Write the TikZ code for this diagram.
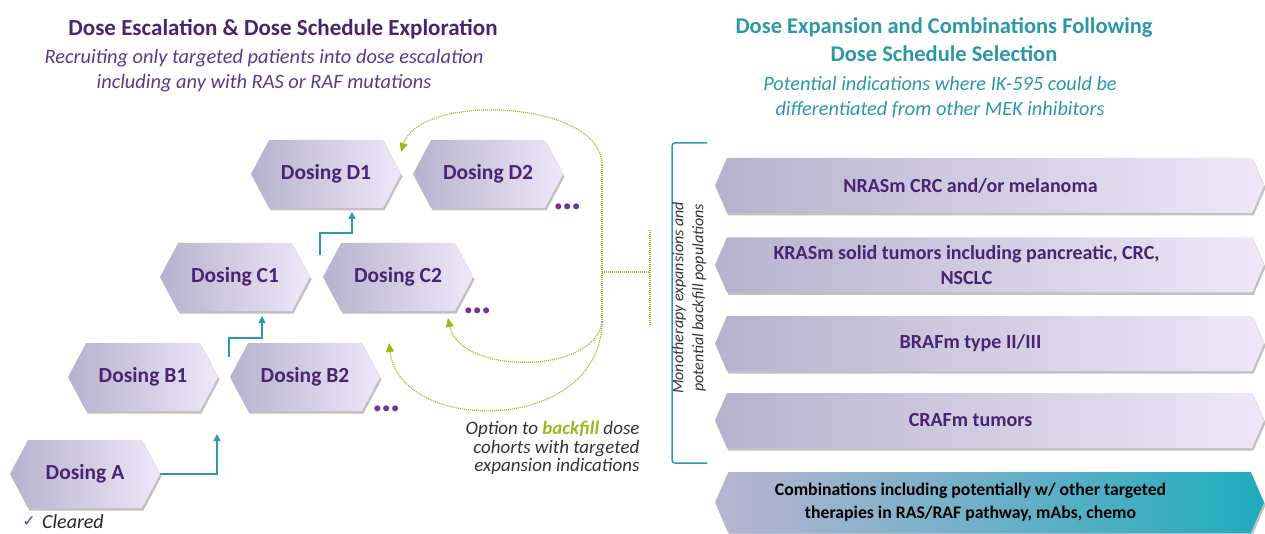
\documentclass[tikz,border=0pt]{standalone}
\usepackage{fontspec}
\setmainfont{Carlito}
\newfontfamily\symfont{DejaVu Sans}
\usetikzlibrary{shapes.symbols,shadows,arrows.meta}

\definecolor{ink}{HTML}{4A2371}
\definecolor{subink}{HTML}{5B3A89}
\definecolor{tealtitle}{HTML}{2C98A6}
\definecolor{tealline}{HTML}{2E9BAA}
\definecolor{olive}{HTML}{A2B520}
\definecolor{hexL}{HTML}{B6B2CE}
\definecolor{hexR}{HTML}{EFE7F9}
\definecolor{dotpurple}{HTML}{7030A0}
\definecolor{combL}{HTML}{B9B4D1}
\definecolor{combM}{HTML}{8ED6E0}
\definecolor{combR}{HTML}{1FACBE}

\begin{document}
\begin{tikzpicture}[x=1pt,y=-1pt,
  hexbox/.style={signal, signal to=east and west, signal pointer angle=124,
    minimum width=150pt, minimum height=68pt, inner sep=0pt,
    left color=hexL, right color=hexR, draw=none,
    drop shadow={shadow xshift=1.5pt, shadow yshift=-2.5pt, opacity=0.35, fill=black!70},
    font=\fontsize{21.5}{25}\selectfont\bfseries, text=ink},
  barbox/.style={signal, signal to=east and west, signal pointer angle=133,
    minimum width=549pt, minimum height=55pt, inner sep=0pt,
    left color=hexL, right color=hexR, draw=none,
    drop shadow={shadow xshift=1.5pt, shadow yshift=-2.5pt, opacity=0.35, fill=black!70}},
  bartext/.style={font=\fontsize{20}{25}\selectfont\bfseries, text=ink, align=center},
  more/.style={font=\fontsize{40}{40}\selectfont\bfseries, text=dotpurple, inner sep=0pt, anchor=base},
  steparrow/.style={draw=tealline, line width=1.3pt, -{Triangle[width=7pt,length=7pt]}},
  backfillarrow/.style={draw=olive, line width=1.2pt, dash pattern=on 1pt off 1pt,
    -{Triangle[width=8pt,length=9pt]}},
  backfillline/.style={draw=olive, line width=1.2pt, dash pattern=on 1pt off 1pt}
]
\useasboundingbox (0,0) rectangle (1265,534);

% ---- headings ----
\node[font=\fontsize{23}{27}\selectfont\bfseries, text=ink] (lefttitle) at (283,29)
  {Dose Escalation \& Dose Schedule Exploration};
\node[font=\fontsize{20.4}{25}\selectfont\itshape, text=subink, align=center] (leftsub) at (264,70.5)
  {Recruiting only targeted patients into dose escalation\\including any with RAS or RAF mutations};
\node[font=\fontsize{22.5}{28}\selectfont\bfseries, text=tealtitle, align=center] (righttitle) at (944,40)
  {Dose Expansion and Combinations Following\\Dose Schedule Selection};
\node[font=\fontsize{20.3}{25}\selectfont\itshape, text=tealtitle, align=center] (rightsub) at (940,97)
  {Potential indications where IK-595 could be\\differentiated from other MEK inhibitors};

% ---- escalation cohorts ----
\node[hexbox] (A)  at (85,474)  {Dosing A};
\node[hexbox] (B1) at (143,377) {Dosing B1};
\node[hexbox] (B2) at (305,377) {Dosing B2};
\node[hexbox] (C1) at (235,277) {Dosing C1};
\node[hexbox] (C2) at (398,277) {Dosing C2};
\node[hexbox] (D1) at (326,174) {Dosing D1};
\node[hexbox] (D2) at (488,174) {Dosing D2};

\node[more] (moreD) at (568,210) {…};
\node[more] (moreC) at (478,313) {…};
\node[more] (moreB) at (387,411) {…};

% ---- step-up arrows ----
\coordinate (upB) at (217,434);
\coordinate (sB) at (229,357);
\coordinate (upC) at (262,316);
\coordinate (sC) at (320,255);
\coordinate (upD) at (352,212);
\draw[steparrow] (A.east) -| (upB);
\draw[steparrow] (sB) |- (245,338) -| (upC);
\draw[steparrow] (sC) |- (336,233) -| (upD);

% ---- backfill loops ----
\coordinate (vtop) at (602,165);
\coordinate (vjoin) at (602,322);
\coordinate (vmid) at (602,272);
\coordinate (tick) at (650,272);
\coordinate (tickT) at (650,230);
\coordinate (tickB) at (650,325);
\coordinate (toD) at (401,152);
\coordinate (toC) at (448,318);
\coordinate (toB) at (389,343);
\draw[backfillline] (vjoin) -- (vtop);
\draw[backfillarrow] (vtop) .. controls (602,100) and (420,92) .. (toD);
\draw[backfillarrow] (vjoin) .. controls (595,375) and (460,375) .. (toC);
\draw[backfillarrow] (vjoin) .. controls (600,435) and (400,435) .. (toB);
\draw[backfillline] (vmid) -- (tick);
\draw[backfillline] (tickT) -- (tickB);

\node[font=\fontsize{19}{18.5}\selectfont\itshape, text=black!80, align=right, anchor=east] (backfill) at (643,448)
  {Option to \textcolor{olive}{\bfseries backfill} dose\\cohorts with targeted\\expansion indications};

% ---- expansion bracket ----
\coordinate (brT) at (707,143);
\coordinate (brB) at (707,463);
\draw[tealline, line width=1.5pt, rounded corners=3pt] (brT) -- (672,143) -- (672,463) -- (brB);
\node[rotate=90, font=\fontsize{16}{20}\selectfont\itshape, text=black!80, align=center] (brlabel) at (689,298)
  {Monotherapy expansions and\\potential backfill populations};

% ---- expansion indications ----
\node[barbox] (E1) at (989.5,185.5) {};
\node[barbox] (E2) at (989.5,265) {};
\node[barbox] (E3) at (989.5,343.5) {};
\node[barbox] (E4) at (989.5,420.5) {};
\node[barbox, minimum height=61pt, left color=combL, middle color=combM, right color=combR] (E5) at (989.5,502.5) {};

\node[bartext] (t1) at ([xshift=-19pt]E1.center) {NRASm CRC and/or melanoma};
\node[bartext] (t2) at ([xshift=-23pt]E2.center) {KRASm solid tumors including pancreatic, CRC,\\NSCLC};
\node[bartext] (t3) at ([xshift=-19pt]E3.center) {BRAFm type II/III};
\node[bartext] (t4) at ([xshift=-19pt]E4.center) {CRAFm tumors};
\node[font=\fontsize{17.7}{23}\selectfont\bfseries, text=black, align=center] (t5) at ([xshift=-19pt]E5.center)
  {Combinations including potentially w/ other targeted\\therapies in RAS/RAF pathway, mAbs, chemo};

% ---- legend ----
\node[font=\fontsize{16}{18}\selectfont\symfont, text=dotpurple, anchor=east, inner sep=0pt] (tick) at (36,521) {✓};
\node[font=\fontsize{20}{22}\selectfont\itshape, text=black!85, anchor=west, inner sep=0pt] (cleared) at (42,522) {Cleared};
\end{tikzpicture}
\end{document}
